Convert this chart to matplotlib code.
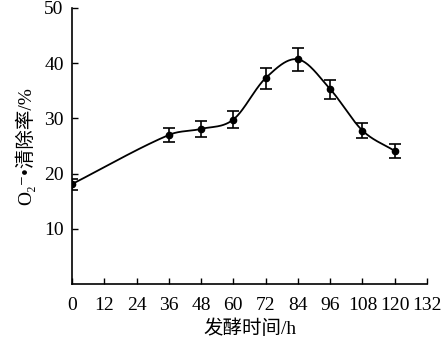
import numpy as np
import matplotlib.pyplot as plt

plt.rcParams['font.family'] = ['Liberation Serif', 'DejaVu Serif', 'Noto Sans CJK SC']

# fermentation time (h) and scavenging rate (%)
hours = [0, 36, 48, 60, 72, 84, 96, 108, 120]
rate = [18.1, 27.0, 28.1, 29.8, 37.3, 40.7, 35.3, 27.8, 24.1]
err = [1.0, 1.3, 1.5, 1.45, 1.9, 2.1, 1.7, 1.4, 1.2]
xticks = list(range(0, 133, 12))
yticks = [10, 20, 30, 40, 50]


def smooth_curve(x, y, n=40):
    # cubic hermite through the points (catmull-rom style tangents)
    x = np.asarray(x, float)
    y = np.asarray(y, float)
    d = np.diff(y) / np.diff(x)
    m = np.empty_like(y)
    m[0], m[-1] = d[0], d[-1]
    m[1:-1] = (y[2:] - y[:-2]) / (x[2:] - x[:-2])
    xs, ys = [], []
    t = np.linspace(0, 1, n)
    for i in range(len(x) - 1):
        h = x[i + 1] - x[i]
        h00 = 2 * t ** 3 - 3 * t ** 2 + 1
        h10 = t ** 3 - 2 * t ** 2 + t
        h01 = -2 * t ** 3 + 3 * t ** 2
        h11 = t ** 3 - t ** 2
        xs.append(x[i] + t * h)
        ys.append(h00 * y[i] + h10 * h * m[i] + h01 * y[i + 1] + h11 * h * m[i + 1])
    return np.concatenate(xs), np.concatenate(ys)


fig = plt.figure(figsize=(4.48, 3.49), dpi=100)
ax = fig.add_axes([72 / 448, 65 / 349, 355 / 448, 276 / 349])

cx, cy = smooth_curve(hours, rate)
ax.plot(cx, cy, color='black', lw=1.3)
ax.errorbar(hours, rate, yerr=err, fmt='o', color='black', ms=4.5,
            elinewidth=1.2, capsize=4, capthick=1.2)

ax.set_xlim(0, 132)
ax.set_ylim(0, 50)
ax.set_xticks(xticks)
ax.set_yticks(yticks)
ax.tick_params(direction='in', length=4, width=1, labelsize=14)
ax.tick_params(axis='x', pad=9)
ax.tick_params(axis='y', pad=6)
for s in ['top', 'right']:
    ax.spines[s].set_visible(False)
for s in ['left', 'bottom']:
    ax.spines[s].set_linewidth(1.2)

ax.set_xlabel('发酵时间/h', fontsize=14, labelpad=4)
ax.set_ylabel('O₂⁻•清除率/%', fontsize=14, labelpad=6)

fig.savefig('out.png', dpi=100)
